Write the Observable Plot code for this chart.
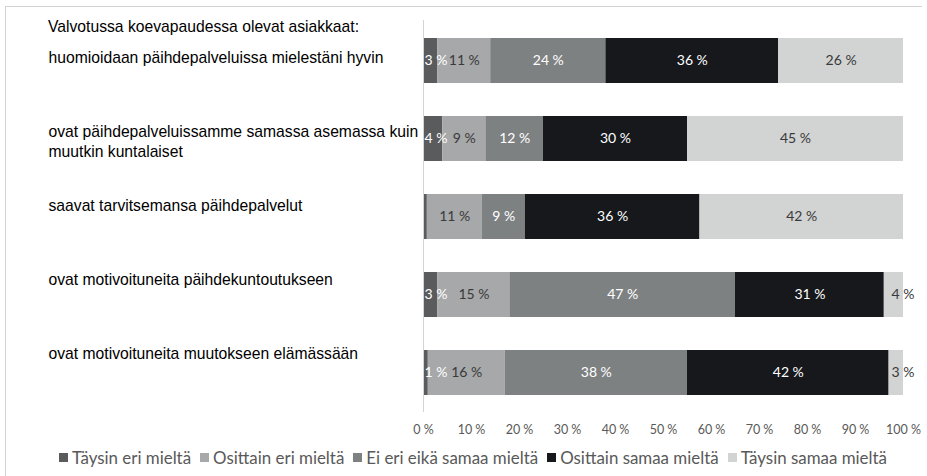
<!DOCTYPE html>
<html><head><meta charset="utf-8">
<script src="https://cdn.jsdelivr.net/npm/d3@7"></script>
<script src="https://cdn.jsdelivr.net/npm/@observablehq/plot@0.6"></script>
<style>
body{margin:0;background:#fff;}
#chart{position:relative;width:927px;height:476px;overflow:hidden;background:#fff;}
#frame{position:absolute;left:5px;top:6px;width:917px;height:500px;border-top:1px solid #d3d3d3;border-left:1px solid #d3d3d3;box-sizing:border-box;}
#title{position:absolute;left:48px;top:18px;font-family:"Liberation Sans",Arial,sans-serif;font-size:15.7px;line-height:18px;color:#000;white-space:nowrap;}
#main,#labels{position:absolute;left:0;top:0;}
#legend{position:absolute;left:0;top:440px;width:927px;height:34px;box-sizing:border-box;padding-left:28px;display:flex;justify-content:center;align-items:center;font-family:Lato,sans-serif;font-size:16.9px;color:#595959;}
#legend .item{display:inline-flex;align-items:center;margin-right:9px;}
#legend .sw{width:9px;height:9px;margin-right:4px;display:inline-block;}
</style>
</head><body>
<div id="chart">
  <div id="frame"></div>
  <div id="main"></div>
  <div id="labels"></div>
  <div id="title"></div>
  <div id="legend"></div>
</div>
<script>
const title = "Valvotussa koevapaudessa olevat asiakkaat:";
const questions = [
  "huomioidaan päihdepalveluissa mielestäni hyvin",
  "ovat päihdepalveluissamme samassa asemassa kuin muutkin kuntalaiset",
  "saavat tarvitsemansa päihdepalvelut",
  "ovat motivoituneita päihdekuntoutukseen",
  "ovat motivoituneita muutokseen elämässään"
];
const responses = ["Täysin eri mieltä","Osittain eri mieltä","Ei eri eikä samaa mieltä","Osittain samaa mieltä","Täysin samaa mieltä"];
const colors = ["#595b5d","#a6a8a9","#7e8182","#16181b","#d2d3d3"];
const labelColors = ["#ffffff","#3a3a3a","#ffffff","#ffffff","#3a3a3a"];
// values (%) per response, in question order
const taysinEri     = [3, 4, 0.8, 3, 1];
const osittainEri   = [11, 9, 11.4, 15, 16];
const eiEriEikaSama = [24, 12, 9, 47, 38];
const osittainSama  = [36, 30, 36.4, 31, 42];
const taysinSama    = [26, 45, 42.4, 4, 3];
// data labels not shown in the original
const hiddenLabels = [[2, 0]]; // [question index, response index]
const xTicks = [0,10,20,30,40,50,60,70,80,90,100];

const series = [taysinEri, osittainEri, eiEriEikaSama, osittainSama, taysinSama];
const last = responses.length - 1;
const data = [];
questions.forEach((q, qi) => {
  series.forEach((s, ri) => {
    const hide = hiddenLabels.some(([a,b]) => a === qi && b === ri);
    data.push({question: q, response: responses[ri], ri, value: s[qi], label: hide ? "" : Math.round(s[qi]) + " %", lc: labelColors[ri]});
  });
});
// narrow end segments get their label pushed to the outer edges, as in the original
const isFirst = d => d.ri === 0;
const isNarrowLast = d => d.ri === last && d.value < 5;

const stackOpts = {x: "value", y: "question", z: "response", order: responses};
const txt = {fill: "lc", fontFamily: "Lato", fontSize: 14};
const main = Plot.plot({
  width: 927,
  height: 440,
  marginLeft: 423,
  marginRight: 24,
  marginTop: 20,
  marginBottom: 28,
  style: {background: "transparent", overflow: "visible"},
  x: {domain: [0, 100], ticks: xTicks, tickFormat: d => d + " %", label: null},
  y: {domain: questions, paddingInner: 0.425, paddingOuter: 0.22, axis: null},
  color: {domain: responses, range: colors},
  marks: [
    Plot.barX(data, Plot.stackX({...stackOpts, fill: "response"})),
    Plot.text(data, Plot.stackX({...stackOpts, ...txt, text: d => (!isFirst(d) && !isNarrowLast(d)) ? d.label : null})),
    Plot.text(data, Plot.stackX1({...stackOpts, ...txt, text: d => isFirst(d) ? d.label : null, textAnchor: "start", dx: 1})),
    Plot.text(data, Plot.stackX2({...stackOpts, ...txt, text: d => isNarrowLast(d) ? d.label : null, textAnchor: "end", dx: 11})),
    Plot.ruleX([0], {stroke: "#d3d3d3", strokeWidth: 1}),
    Plot.axisX({ticks: xTicks, tickFormat: d => d + " %", tickSize: 0, tickPadding: 12.5, fontFamily: "Lato", fontSize: 12.5, fill: "#595959", label: null})
  ]
});
document.getElementById("main").appendChild(main);

const labels = Plot.plot({
  width: 423,
  height: 440,
  marginLeft: 48,
  marginRight: 0,
  marginTop: 0,
  marginBottom: 0,
  style: {background: "transparent"},
  y: {type: "point", domain: questions, range: [46.5, 344.5], padding: 0, axis: null},
  marks: [
    Plot.text(questions, {y: d => d, text: d => d, frameAnchor: "left", textAnchor: "start", lineAnchor: "top", lineWidth: 26, lineHeight: 1.27, fontFamily: "Liberation Sans", fontSize: 15.7, fill: "#000"})
  ]
});
document.getElementById("labels").appendChild(labels);

document.getElementById("title").textContent = title;

const lg = d3.select("#legend");
responses.forEach((r, i) => {
  const it = lg.append("span").attr("class", "item");
  it.append("span").attr("class", "sw").style("background", colors[i]);
  it.append("span").text(r);
});
</script>
</body></html>
